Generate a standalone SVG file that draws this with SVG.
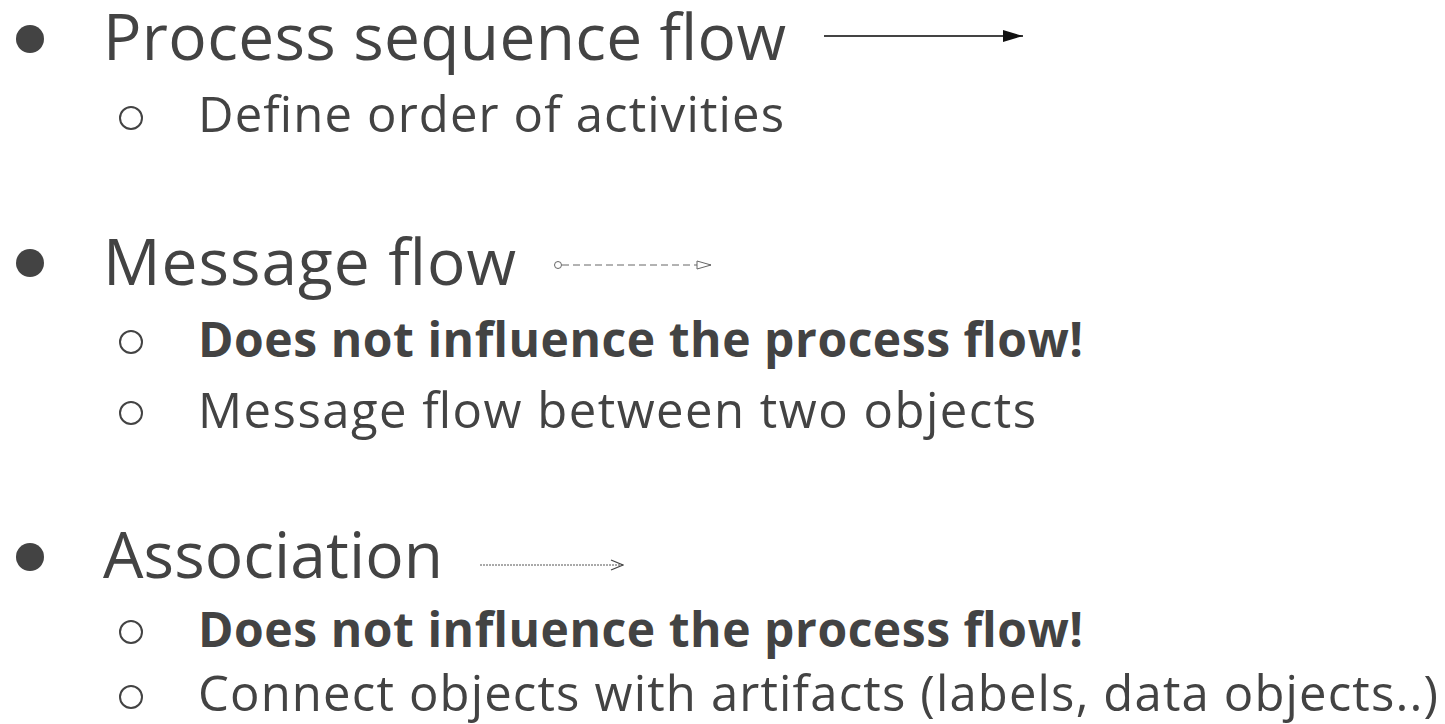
<svg xmlns="http://www.w3.org/2000/svg" width="1445" height="724" viewBox="0 0 1445 724">
<style>
text{font-family:"Open Sans","Noto Sans","Liberation Sans",sans-serif;fill:#434343}
.h{font-size:64px}
.s{font-size:49px}
.b{font-weight:bold;font-size:48px}
.dot{fill:#434343}
.ring{fill:none;stroke:#434343;stroke-width:2}
</style>
<defs>
<marker id="solid" markerWidth="20" markerHeight="12" refX="20" refY="6" orient="auto" markerUnits="userSpaceOnUse">
<path d="M0,0 L20,6 L0,12 Z" fill="#111"/>
</marker>
<marker id="open" markerWidth="16" markerHeight="12" refX="15" refY="6" orient="auto" markerUnits="userSpaceOnUse">
<path d="M1,2 L15,6 L1,10 Z" fill="#fff" stroke="#666" stroke-width="1"/>
</marker>
<marker id="chev" markerWidth="14" markerHeight="12" refX="13" refY="6" orient="auto" markerUnits="userSpaceOnUse">
<path d="M1,1 L13,6 L1,11" fill="none" stroke="#444" stroke-width="1.3"/>
</marker>
</defs>
<g id="item-sequence">
<circle class="dot" cx="30" cy="39" r="14"/>
<text class="h" x="103" y="60" textLength="683" lengthAdjust="spacing">Process sequence flow</text>
<circle class="ring" cx="131" cy="118" r="11"/>
<text class="s" x="198" y="132" textLength="586" lengthAdjust="spacing">Define order of activities</text>
</g>
<g id="item-message">
<circle class="dot" cx="30" cy="263" r="14"/>
<text class="h" x="103" y="285" textLength="413" lengthAdjust="spacing">Message flow</text>
<circle class="ring" cx="131" cy="342" r="11"/>
<text class="s b" x="198" y="357" textLength="885" lengthAdjust="spacing">Does not influence the process flow!</text>
<circle class="ring" cx="131" cy="413" r="11"/>
<text class="s" x="198" y="428" textLength="838" lengthAdjust="spacing">Message flow between two objects</text>
</g>
<g id="item-association">
<circle class="dot" cx="30" cy="557" r="14"/>
<text class="h" x="103" y="578" textLength="340" lengthAdjust="spacing">Association</text>
<circle class="ring" cx="131" cy="632" r="11"/>
<text class="s b" x="198" y="647" textLength="885" lengthAdjust="spacing">Does not influence the process flow!</text>
<circle class="ring" cx="131" cy="697" r="11"/>
<text class="s" x="198" y="711" textLength="1240" lengthAdjust="spacing">Connect objects with artifacts (labels, data objects..)</text>
</g>
<g id="connectors">
<line x1="824" y1="36" x2="1023" y2="36" stroke="#444" stroke-width="1.8" marker-end="url(#solid)"/>
<circle cx="558" cy="265" r="3.5" fill="#fff" stroke="#666" stroke-width="1"/>
<line x1="562" y1="265" x2="711" y2="265" stroke="#666" stroke-width="1" stroke-dasharray="7,4" marker-end="url(#open)"/>
<line x1="480" y1="565" x2="623" y2="565" stroke="#555" stroke-width="1" stroke-dasharray="2,1" marker-end="url(#chev)"/>
</g>
</svg>
